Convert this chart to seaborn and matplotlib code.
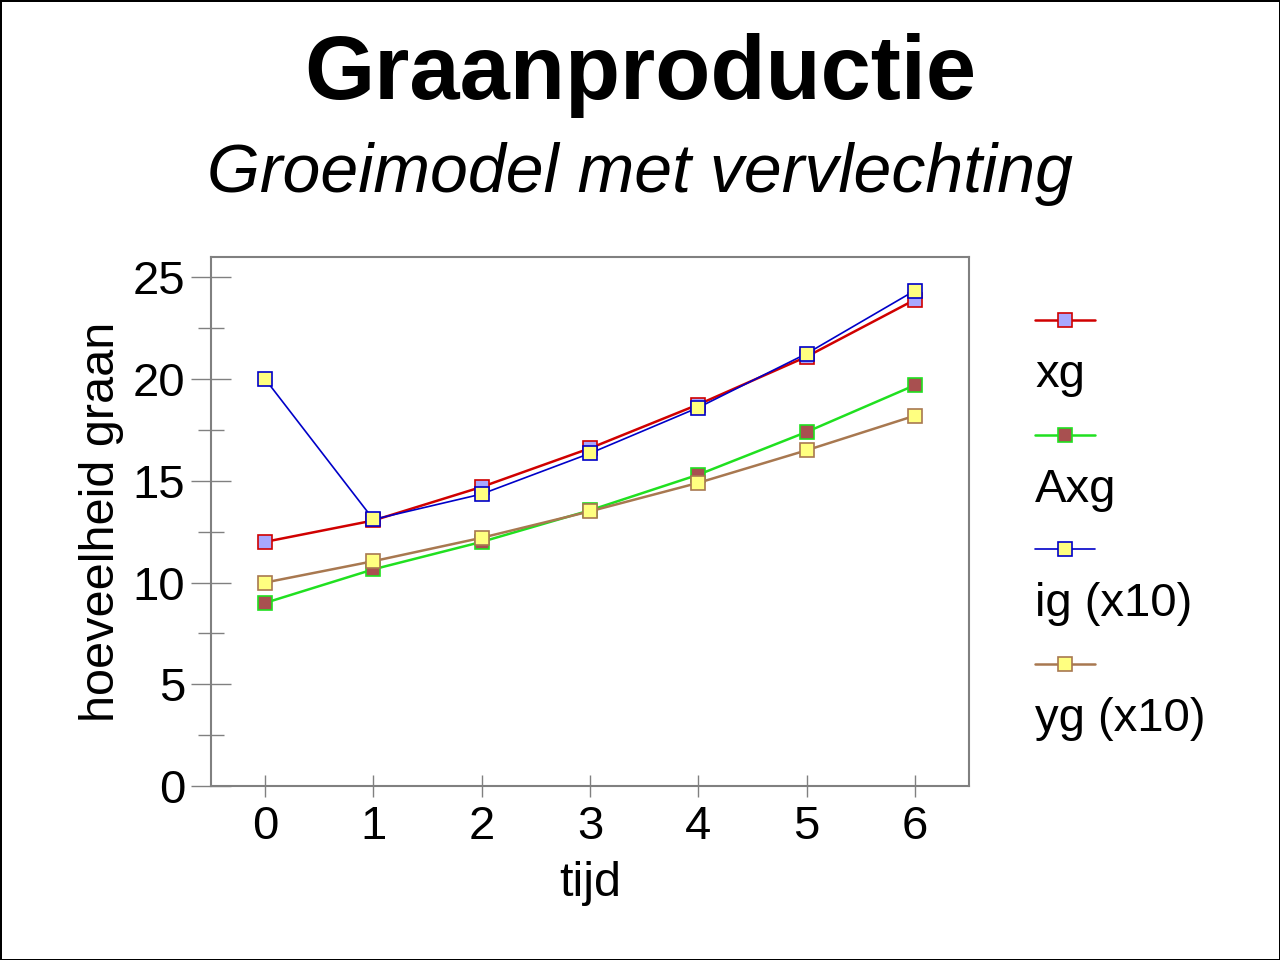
import numpy as np
import pandas as pd
import matplotlib
matplotlib.use("Agg")
import matplotlib.pyplot as plt
from matplotlib.lines import Line2D
from matplotlib.legend_handler import HandlerLine2D
from matplotlib.ticker import MultipleLocator
import seaborn as sns

# data
tijd = [0, 1, 2, 3, 4, 5, 6]
xg = [12.0, 13.05, 14.7, 16.6, 18.75, 21.1, 23.9]
axg = [9.0, 10.65, 12.0, 13.55, 15.3, 17.4, 19.7]
ig = [20.0, 13.1, 14.35, 16.35, 18.6, 21.25, 24.35]
yg = [10.0, 11.05, 12.2, 13.5, 14.9, 16.5, 18.2]

labels = ["xg", "Axg", "ig (x10)", "yg (x10)"]
line_colors = ["#d00000", "#20e020", "#0000c8", "#a87850"]
face_colors = ["#a8a8ff", "#a85050", "#ffff80", "#ffff80"]
line_widths = [1.8, 1.8, 1.2, 1.8]


class LoweredLine(HandlerLine2D):
    # draw the legend line a bit lower so it sits closer to its label row
    def create_artists(self, legend, orig_handle, xdescent, ydescent,
                       width, height, fontsize, trans):
        artists = super().create_artists(legend, orig_handle, xdescent, ydescent,
                                         width, height, fontsize, trans)
        for a in artists:
            a.set_ydata(np.asarray(a.get_ydata()) - 5)
        return artists


sns.set_style("white")
plt.rcParams["font.family"] = ["Liberation Sans", "DejaVu Sans"]
plt.rcParams["text.color"] = "black"
plt.rcParams["axes.labelcolor"] = "black"
plt.rcParams["xtick.labelcolor"] = "black"
plt.rcParams["ytick.labelcolor"] = "black"

fig = plt.figure(figsize=(12.8, 9.6), dpi=100)
fig.patch.set_edgecolor("black")
fig.patch.set_linewidth(2)
ax = fig.add_axes([211 / 1280, 1 - 786 / 960, (969 - 211) / 1280, (786 - 257) / 960])

series = [xg, axg, ig, yg]
handles = []
for vals, lab, lc, fc, lw in zip(series, labels, line_colors, face_colors, line_widths):
    df = pd.DataFrame({"tijd": tijd, "waarde": vals})
    sns.lineplot(data=df, x="tijd", y="waarde", ax=ax, color=lc, linewidth=lw,
                 marker="s", markersize=10, markerfacecolor=fc,
                 markeredgecolor=lc, markeredgewidth=1.2)
    handles.append(Line2D([], [], color=lc, linewidth=lw, marker="s", markersize=10,
                          markerfacecolor=fc, markeredgecolor=lc, markeredgewidth=1.2))

ax.set_xlim(-0.5, 6.5)
ax.set_ylim(0, 26)
ax.set_xticks(tijd)
ax.yaxis.set_major_locator(MultipleLocator(5))
ax.yaxis.set_minor_locator(MultipleLocator(2.5))
ax.tick_params(axis="y", which="major", direction="inout", length=29, width=1,
               color="#808080", labelsize=34, pad=4, left=True)
ax.tick_params(axis="y", which="minor", direction="inout", length=19, width=1,
               color="#808080", left=True)
ax.tick_params(axis="x", which="major", direction="inout", length=16, width=1,
               color="#808080", labelsize=34, pad=6, bottom=True)
for sp in ax.spines.values():
    sp.set_color("#808080")
    sp.set_linewidth(1.5)

ax.set_xlabel("tijd", fontsize=35, labelpad=8)
ax.set_ylabel("hoeveelheid graan", fontsize=35, labelpad=6)

fig.text(0.5, 1 - 75 / 960, "Graanproductie", ha="center", va="center",
         fontsize=65, fontweight="bold")
fig.text(0.5, 1 - 174 / 960, "Groeimodel met vervlechting", ha="center", va="center",
         fontsize=49, style="italic")

# legend: marker row above, label row below
blank = Line2D([], [], linestyle="none")
leg_handles, leg_labels = [], []
for h, lab in zip(handles, labels):
    leg_handles += [h, blank]
    leg_labels += ["", lab]
leg = fig.legend(leg_handles, leg_labels, loc="upper left",
                 bbox_to_anchor=(1035 / 1280, 1 - 296 / 960), frameon=False,
                 fontsize=34, handlelength=1.28, handletextpad=-1.28,
                 labelspacing=0.28, borderpad=0, borderaxespad=0,
                 handler_map={h: LoweredLine() for h in handles})

fig.savefig("out.png", dpi=100, edgecolor=fig.get_edgecolor())
